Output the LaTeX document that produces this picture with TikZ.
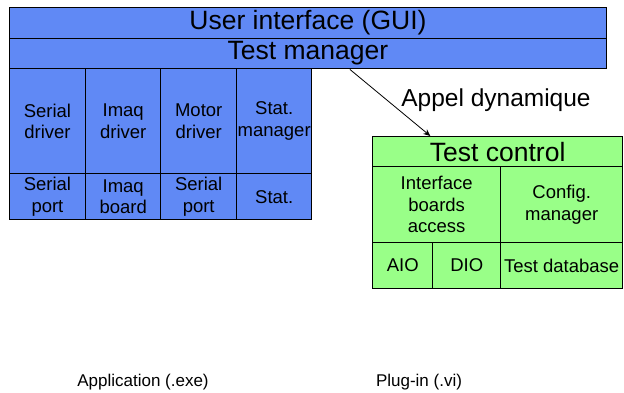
\documentclass[tikz,border=0pt]{standalone}
\usepackage{fontspec}
\setmainfont{Liberation Sans}
\usetikzlibrary{arrows.meta,calc}
\definecolor{boxblue}{RGB}{96,137,245}
\definecolor{boxgreen}{RGB}{153,255,136}
\tikzset{
  cell/.style={draw=black, line width=1.4pt, inner sep=0pt, anchor=north west, align=center,
               font=\fontsize{18.5}{21.5}\selectfont},
  bcell/.style={cell, fill=boxblue},
  gcell/.style={cell, fill=boxgreen},
  big/.style={font=\fontsize{26.5}{30}\selectfont},
  lbl/.style={inner sep=0pt, anchor=base},
  arr/.style={draw=black, line width=0.8pt, -{Stealth[length=7pt,width=6pt]}}
}
\begin{document}
\begin{tikzpicture}[x=1pt,y=-1pt]
\useasboundingbox (0,0) rectangle (624,393);
% application stack
\node[bcell, big, minimum width=597.5pt, minimum height=30.7pt] (ui) at (8.5,7) {User interface (GUI)};
\node[bcell, big, minimum width=597.5pt, minimum height=30.3pt] (tm) at (8.5,37.7) {Test manager};
\node[bcell, minimum width=76.5pt, minimum height=105pt] (sd) at (8.5,68) {Serial\\driver};
\node[bcell, minimum width=75pt, minimum height=105pt] (id) at (85,68) {Imaq\\driver};
\node[bcell, minimum width=76pt, minimum height=105pt] (md) at (160,68) {Motor\\driver};
\node[bcell, minimum width=75pt, minimum height=105pt] (sm) at (236,68) {Stat.\\manager};
\node[bcell, minimum width=76.5pt, minimum height=46pt] (sp1) at (8.5,173) {Serial\\port};
\node[bcell, minimum width=75pt, minimum height=46pt] (ib) at (85,173) {Imaq\\board};
\node[bcell, minimum width=76pt, minimum height=46pt] (sp2) at (160,173) {Serial\\port};
\node[bcell, minimum width=75pt, minimum height=46pt] (st) at (236,173) {Stat.};
% plug-in stack
\node[gcell, big, minimum width=250pt, minimum height=30pt] (tc) at (372,136) {Test control};
\node[gcell, minimum width=128pt, minimum height=75.7pt] (iba) at (372,166) {Interface\\boards\\access};
\node[gcell, minimum width=122pt, minimum height=75.7pt] (cfg) at (500,166) {Config.\\manager};
\node[gcell, minimum width=60pt, minimum height=46pt] (aio) at (372,241.7) {AIO};
\node[gcell, minimum width=68pt, minimum height=46pt] (dio) at (432,241.7) {DIO};
\node[gcell, minimum width=122pt, minimum height=46pt] (tdb) at (500,241.7) {Test database};
% call
\node[lbl, font=\fontsize{24.5}{27}\selectfont] (ad) at (496,106.7) {Appel dynamique};
\draw[arr] ($(tm.south west)!0.57!(tm.south east)$) -- ($(tc.north west)!0.232!(tc.north east)$);
% captions
\node[lbl, font=\fontsize{17}{20}\selectfont] (app) at (143,386) {Application (.exe)};
\node[lbl, font=\fontsize{17}{20}\selectfont] (plug) at (419,386) {Plug-in (.vi)};
\end{tikzpicture}
\end{document}
